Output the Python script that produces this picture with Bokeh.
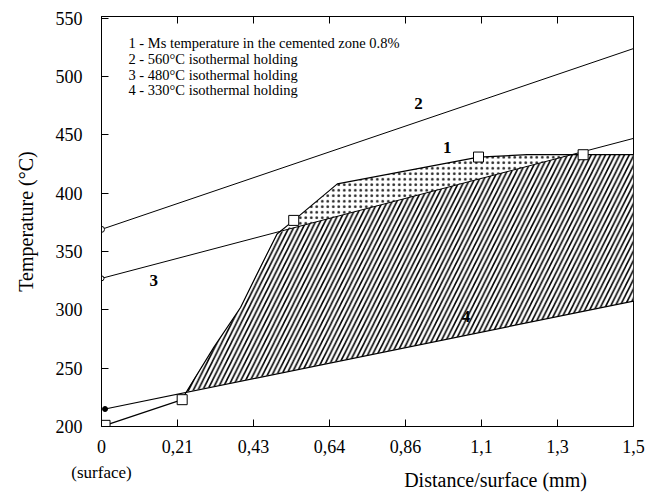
from bokeh.plotting import figure
from bokeh.models import Range1d, FixedTicker, LinearAxis, Label
from bokeh.embed import file_html
from bokeh.resources import INLINE

# ---- data ----
x_ticks = [0.0, 0.2143, 0.4286, 0.6429, 0.8571, 1.0714, 1.2857, 1.5]
x_tick_labels = ["0", "0,21", "0,43", "0,64", "0,86", "1,1", "1,3", "1,5"]
y_ticks = [200, 250, 300, 350, 400, 450, 500, 550]

# 1 - Ms temperature in the cemented zone 0.8%
ms_x = [0.01, 0.2275, 0.237, 0.317, 0.392, 0.448, 0.495, 0.542, 0.665, 1.063, 1.2, 1.358, 1.5]
ms_y = [201, 223, 228.5, 268, 302, 336.6, 365, 376.7, 408, 431, 433, 433, 433]
ms_sq_x = [0.01, 0.2275, 0.542, 1.063, 1.358]
ms_sq_y = [201, 223, 376.7, 431, 433]

# 2 - 560°C isothermal holding
h560_x = [0.0, 1.5]
h560_y = [369, 524]
# 3 - 480°C isothermal holding
h480_x = [0.0, 1.5]
h480_y = [327, 447]
# 4 - 330°C isothermal holding
h330_x = [0.01, 1.5]
h330_y = [215, 307.5]

# hatched zone
hatch_x = [0.237, 0.317, 0.392, 0.448, 0.495, 0.524, 1.325, 1.5, 1.5, 0.237]
hatch_y = [229.5, 268, 302, 336.6, 365, 369, 433, 433, 307.5, 229.5]
# dotted zone
dots_x = [0.524, 0.542, 0.665, 1.063, 1.2, 1.325]
dots_y = [369, 376.7, 408, 431, 433, 433]

legend_lines = [
    "1 - Ms temperature in the cemented zone 0.8%",
    "2 - 560°C isothermal holding",
    "3 - 480°C isothermal holding",
    "4 - 330°C isothermal holding",
]
legend_y = [528.5, 514.8, 501.0, 488.8]
curve_labels = ["1", "2", "3", "4"]
curve_label_x = [0.975, 0.894, 0.147, 1.028]
curve_label_y = [439.5, 477, 325, 294.3]

x_title = "Distance/surface (mm)"
x_title_pos = 1.111
surface_note = "(surface)"
surface_pos = 0.0

SERIF = "Liberation Serif"

p = figure(width=649, height=493, output_backend="svg", toolbar_location=None,
           x_range=Range1d(0, 1.5), y_range=Range1d(200, 551.5),
           min_border_left=101, min_border_right=16, min_border_top=16, min_border_bottom=67)
p.grid.visible = False
p.outline_line_color = "black"
p.outline_line_width = 1
p.background_fill_color = "white"
p.border_fill_color = "white"

# axes
xa = p.xaxis[0]
xa.ticker = FixedTicker(ticks=x_ticks)
xa.major_label_overrides = {t: l for t, l in zip(x_ticks, x_tick_labels)}
ya = p.yaxis[0]
ya.ticker = FixedTicker(ticks=y_ticks)
for ax in (xa, ya):
    ax.major_tick_in = 7
    ax.major_tick_out = 0
    ax.minor_tick_line_color = None
    ax.axis_line_color = "black"
    ax.major_tick_line_color = "black"
    ax.major_label_text_font = SERIF
    ax.major_label_text_font_size = "18px"
    ax.major_label_text_color = "black"
xa.major_label_standoff = 13
ya.major_label_standoff = 19
ya.axis_label = "Temperature (°C)"
ya.axis_label_text_font = SERIF
ya.axis_label_text_font_size = "20px"
ya.axis_label_text_font_style = "normal"
ya.axis_label_text_color = "black"
ya.axis_label_standoff = 16

# top frame ticks (no labels)
top = LinearAxis(ticker=FixedTicker(ticks=x_ticks), major_tick_in=7, major_tick_out=0,
                 minor_tick_line_color=None,
                 major_label_overrides={t: "" for t in x_ticks},
                 major_label_standoff=0, axis_line_color="black")
p.add_layout(top, "above")

# "(surface)" under the 0 tick
ax2 = LinearAxis(ticker=FixedTicker(ticks=[surface_pos]),
                 major_label_overrides={surface_pos: surface_note},
                 major_tick_in=0, major_tick_out=0, minor_tick_line_color=None,
                 axis_line_color=None, major_tick_line_color=None,
                 major_label_standoff=7, major_label_text_font=SERIF,
                 major_label_text_font_size="17px", major_label_text_color="black")
p.add_layout(ax2, "below")

# x axis title
ax3 = LinearAxis(ticker=FixedTicker(ticks=[x_title_pos]),
                 major_label_overrides={x_title_pos: x_title},
                 major_tick_in=0, major_tick_out=0, minor_tick_line_color=None,
                 axis_line_color=None, major_tick_line_color=None,
                 major_label_standoff=-16, major_label_text_font=SERIF,
                 major_label_text_font_size="20px", major_label_text_color="black")
p.add_layout(ax3, "below")

# filled zones
p.patch(hatch_x, hatch_y, fill_color="white", line_color=None,
        hatch_pattern="/", hatch_color="black", hatch_weight=1.6, hatch_scale=9.5)
p.patch(dots_x, dots_y, fill_color="white", line_color=None,
        hatch_pattern=".", hatch_color="black", hatch_weight=0.4, hatch_scale=5.5,
        hatch_alpha=0.85)

# curves
p.line(h560_x, h560_y, line_color="black", line_width=1)
p.line(h480_x, h480_y, line_color="black", line_width=1)
p.line(h330_x, h330_y, line_color="black", line_width=1.2)
p.line(ms_x, ms_y, line_color="black", line_width=1.2)

p.scatter(h560_x[:1], h560_y[:1], marker="circle", size=6, fill_color="white", line_color="black")
p.scatter(h480_x[:1], h480_y[:1], marker="circle", size=5, fill_color="white", line_color="black")
p.scatter(h330_x[:1], h330_y[:1], marker="circle", size=5, fill_color="black", line_color="black")
p.scatter(ms_sq_x, ms_sq_y, marker="square", size=10, fill_color="white", line_color="black")

# legend text
for t, yy in zip(legend_lines, legend_y):
    p.add_layout(Label(x=0.0761, y=yy, text=t, text_font=SERIF, text_font_size="14.5px",
                       text_color="black", text_baseline="middle", text_align="left"))

for t, xx, yy in zip(curve_labels, curve_label_x, curve_label_y):
    p.add_layout(Label(x=xx, y=yy, text=t, text_font=SERIF, text_font_size="17px",
                       text_font_style="bold", text_color="black",
                       text_baseline="middle", text_align="center"))

open("out.html", "w").write(file_html(p, INLINE))
